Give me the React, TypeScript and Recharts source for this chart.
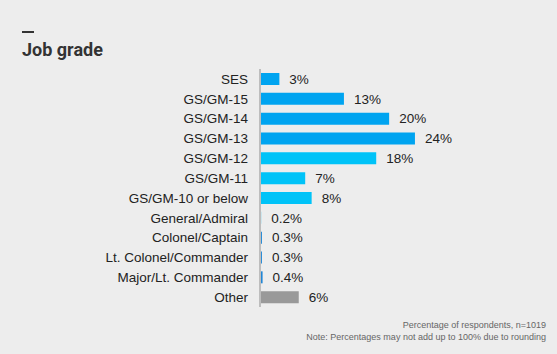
import React from 'react';
import { BarChart, Bar, XAxis, YAxis, Cell, LabelList } from 'recharts';

const categories = [
  'SES', 'GS/GM-15', 'GS/GM-14', 'GS/GM-13', 'GS/GM-12', 'GS/GM-11', 'GS/GM-10 or below',
  'General/Admiral', 'Colonel/Captain', 'Lt. Colonel/Commander', 'Major/Lt. Commander', 'Other',
];
const values = [3, 13, 20, 24, 18, 7, 8, 0.2, 0.3, 0.3, 0.4, 6];
const colors = [
  '#00a4f0', '#00a4f0', '#00a4f0', '#00a4f0', '#00c3f8', '#00c3f8', '#00c3f8',
  '#80d4f2', '#1f86d6', '#1f86d6', '#1f86d6', '#999999',
];

const data = categories.map((name, i) => ({ name, value: values[i] }));

const FONT = '"Liberation Sans", Arial, sans-serif';
const TITLE_FONT = 'Roboto, "Noto Sans", sans-serif';

export default function App() {
  return (
    <div style={{ position: 'fixed', left: 0, top: 0, width: 557, height: 354, background: '#ededed', fontFamily: FONT }}>
      <div style={{ position: 'absolute', left: 22, top: 31, width: 12, height: 2, background: '#333' }} />
      <div style={{ position: 'absolute', left: 22, top: 39, fontSize: 18, fontWeight: 700, color: '#333', lineHeight: '22px', fontFamily: TITLE_FONT }}>Job grade</div>
      <BarChart
        width={557}
        height={354}
        data={data}
        layout="vertical"
        margin={{ top: 69, bottom: 47, left: 0, right: 0 }}
        barSize={12}
      >
        <XAxis type="number" hide domain={[0, 46]} />
        <YAxis
          type="category"
          dataKey="name"
          width={260}
          tickSize={0}
          tickMargin={12}
          axisLine={{ stroke: '#bdbdbd', strokeWidth: 2 }}
          tickLine={false}
          tick={{ fontSize: 13.5, fill: '#222', fontFamily: FONT }}
          interval={0}
        />
        <Bar dataKey="value" isAnimationActive={false}>
          {data.map((d, i) => (
            <Cell key={d.name} fill={colors[i]} />
          ))}
          <LabelList
            dataKey="value"
            position="right"
            offset={10}
            formatter={(v: number) => `${v}%`}
            style={{ fontSize: 13.5, fill: '#222', fontFamily: FONT }}
          />
        </Bar>
      </BarChart>
      <div style={{ position: 'absolute', right: 11, top: 319, fontSize: 9, color: '#666', textAlign: 'right', lineHeight: '12px' }}>
        Percentage of respondents, n=1019<br />
        Note: Percentages may not add up to 100% due to rounding
      </div>
    </div>
  );
}
